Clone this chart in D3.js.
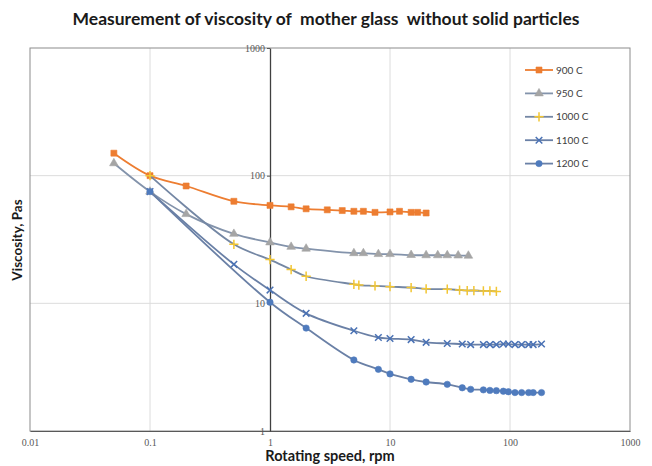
<html>
<head>
<title>Viscosity of mother glass</title>
<style>
  body { margin: 0; background: #fff; }
  svg { display: block; }
</style>
</head>
<body>
<svg></svg>
<script src="https://d3js.org/d3.v7.min.js"></script>
<script>
// values (rotating speed rpm -> viscosity Pas)
var speed900 = [0.05, 0.1, 0.2, 0.5, 1, 1.5, 2, 3, 4, 5, 6, 7.5, 10, 12, 15, 17, 20];
var visc900  = [150, 100, 83, 63, 58.5, 57, 55, 54, 53.3, 52.6, 52.6, 51.6, 52, 52.6, 51.6, 51.6, 51];

var speed950 = [0.05, 0.1, 0.2, 0.5, 1, 1.5, 2, 5, 6, 8, 10, 15, 20, 25, 30, 37, 45];
var visc950  = [125, 75, 50, 35, 30, 27.7, 26.8, 24.7, 24.7, 24.3, 24.3, 23.9, 23.8, 23.8, 23.8, 23.7, 23.6];

var speed1000 = [0.1, 0.5, 1, 1.5, 2, 5, 5.5, 7.5, 10, 15, 20, 30, 38, 44, 50, 60, 68, 77];
var visc1000  = [100, 29, 22, 18.4, 16.3, 14.1, 13.9, 13.7, 13.5, 13.3, 13, 12.9, 12.7, 12.6, 12.6, 12.5, 12.5, 12.4];

var speed1100 = [0.1, 0.5, 1, 2, 5, 8, 10, 15, 20, 30, 40, 47, 60, 68, 77, 88, 97, 110, 125, 143, 156, 183];
var visc1100  = [75, 20.2, 12.7, 8.35, 6.1, 5.4, 5.3, 5.2, 4.95, 4.85, 4.8, 4.75, 4.75, 4.75, 4.75, 4.8, 4.8, 4.75, 4.75, 4.75, 4.75, 4.8];

var speed1200 = [0.1, 1, 2, 5, 8, 10, 15, 20, 30, 40, 47, 60, 68, 77, 88, 97, 110, 125, 143, 156, 183];
var visc1200  = [75, 10.2, 6.4, 3.6, 3.04, 2.8, 2.54, 2.42, 2.32, 2.18, 2.12, 2.1, 2.08, 2.07, 2.05, 2.03, 2.0, 2.0, 2.0, 2.0, 2.0];

var seriesNames = ["900 C", "950 C", "1000 C", "1100 C", "1200 C"];
var xTicks = [0.01, 0.1, 1, 10, 100, 1000];
var yTicks = [1, 10, 100, 1000];

var series = [
  {name: seriesNames[0], x: speed900,  y: visc900,  line: "#ed7d31", mark: "#ed7d31", sym: d3.symbolSquare,   size: 36, stroke: false},
  {name: seriesNames[1], x: speed950,  y: visc950,  line: "#8393ab", mark: "#a5a5a5", sym: d3.symbolTriangle, size: 32, stroke: false},
  {name: seriesNames[2], x: speed1000, y: visc1000, line: "#7487a4", mark: "#f2c634", sym: d3.symbolPlus,     size: 30, stroke: true},
  {name: seriesNames[3], x: speed1100, y: visc1100, line: "#6a80a6", mark: "#4a72b5", sym: d3.symbolX,        size: 30, stroke: true},
  {name: seriesNames[4], x: speed1200, y: visc1200, line: "#6a80a6", mark: "#4f7bbd", sym: d3.symbolCircle,   size: 32, stroke: false}
];

var W = 652, H = 466;
var svg = d3.select("svg").attr("width", W).attr("height", H);

var x = d3.scaleLog().domain([0.01, 1000]).range([30, 630]);
var y = d3.scaleLog().domain([1, 1000]).range([431, 48]);

// title (keeps the double spaces of the original)
svg.append("text")
  .attr("x", 326).attr("y", 25)
  .attr("text-anchor", "middle")
  .style("white-space", "pre")
  .style("font-family", "Lato, sans-serif")
  .style("font-weight", "bold")
  .style("font-size", "17.5px")
  .style("fill", "#1a1a1a")
  .text("Measurement of viscosity of  mother glass  without solid particles");

// grid
svg.append("g").selectAll("line")
  .data([0.1, 10, 100]).enter().append("line")
  .attr("x1", function(d){ return x(d); }).attr("x2", function(d){ return x(d); })
  .attr("y1", y(1000)).attr("y2", y(1))
  .attr("stroke", "#dcdcdc").attr("stroke-width", 1);
svg.append("g").selectAll("line")
  .data([10, 100]).enter().append("line")
  .attr("x1", x(0.01)).attr("x2", x(1000))
  .attr("y1", function(d){ return y(d); }).attr("y2", function(d){ return y(d); })
  .attr("stroke", "#dcdcdc").attr("stroke-width", 1);

// plot border
svg.append("rect")
  .attr("x", x(0.01)).attr("y", y(1000))
  .attr("width", x(1000) - x(0.01)).attr("height", y(1) - y(1000))
  .attr("fill", "none").attr("stroke", "#8c8c8c").attr("stroke-width", 1);

// x axis along the bottom
var xAxis = svg.append("g")
  .attr("transform", "translate(0," + y(1) + ")")
  .call(d3.axisBottom(x).tickValues(xTicks).tickSize(0).tickPadding(8)
    .tickFormat(function(d){ return d < 1 ? String(d) : d3.format("d")(d); }));
xAxis.select(".domain").attr("stroke", "#595959");
xAxis.selectAll("text")
  .style("font-family", "'Liberation Serif', serif")
  .style("font-size", "10px")
  .style("fill", "#595959");

// y axis crossing at 1 rpm
var yAxis = svg.append("g")
  .attr("transform", "translate(" + x(1) + ",0)")
  .call(d3.axisLeft(y).tickValues(yTicks).tickSize(3).tickSizeOuter(0).tickPadding(2)
    .tickFormat(d3.format("d")));
yAxis.select(".domain").attr("stroke", "#404040").attr("stroke-width", 1.3);
yAxis.selectAll(".tick line").attr("stroke", "#595959");
yAxis.selectAll("text")
  .style("font-family", "'Liberation Serif', serif")
  .style("font-size", "10px")
  .style("fill", "#595959");

// axis titles
svg.append("text")
  .attr("x", 330).attr("y", 461)
  .attr("text-anchor", "middle")
  .style("font-family", "Lato, sans-serif")
  .style("font-weight", "bold")
  .style("font-size", "14.5px")
  .style("fill", "#1a1a1a")
  .text("Rotating speed, rpm");
svg.append("text")
  .attr("transform", "translate(22,240) rotate(-90)")
  .attr("text-anchor", "middle")
  .style("font-family", "Lato, sans-serif")
  .style("font-weight", "bold")
  .style("font-size", "13.5px")
  .style("fill", "#1a1a1a")
  .text("Viscosity, Pas");

var line = d3.line()
  .x(function(d){ return x(d[0]); })
  .y(function(d){ return y(d[1]); })
  .curve(d3.curveCatmullRom.alpha(0.5));

function drawMarker(sel, s) {
  sel.attr("d", d3.symbol().type(s.sym).size(s.size)())
    .attr("fill", s.stroke ? "none" : s.mark)
    .attr("stroke", s.mark)
    .attr("stroke-width", s.stroke ? 1.5 : 0.6);
}

series.forEach(function(s) {
  var pts = s.x.map(function(v, i){ return [v, s.y[i]]; });
  svg.append("path")
    .datum(pts)
    .attr("d", line)
    .attr("fill", "none")
    .attr("stroke", s.line)
    .attr("stroke-width", 1.8);
  svg.append("g").selectAll("path")
    .data(pts).enter().append("path")
    .attr("transform", function(d){ return "translate(" + x(d[0]) + "," + y(d[1]) + ")"; })
    .each(function(){ drawMarker(d3.select(this), s); });
});

// legend
var legend = svg.append("g");
legend.append("rect")
  .attr("x", 516).attr("y", 56).attr("width", 110).attr("height", 118)
  .attr("fill", "#fff");
series.forEach(function(s, i) {
  var ly = 70 + i * 23.4;
  legend.append("line")
    .attr("x1", 525).attr("x2", 553).attr("y1", ly).attr("y2", ly)
    .attr("stroke", s.line).attr("stroke-width", 1.8);
  legend.append("path")
    .attr("transform", "translate(539," + ly + ")")
    .call(drawMarker, s);
  legend.append("text")
    .attr("x", 556).attr("y", ly + 3.5)
    .style("font-family", "Lato, sans-serif")
    .style("font-size", "10px")
    .style("fill", "#404040")
    .text(s.name);
});
</script>
</body>
</html>
